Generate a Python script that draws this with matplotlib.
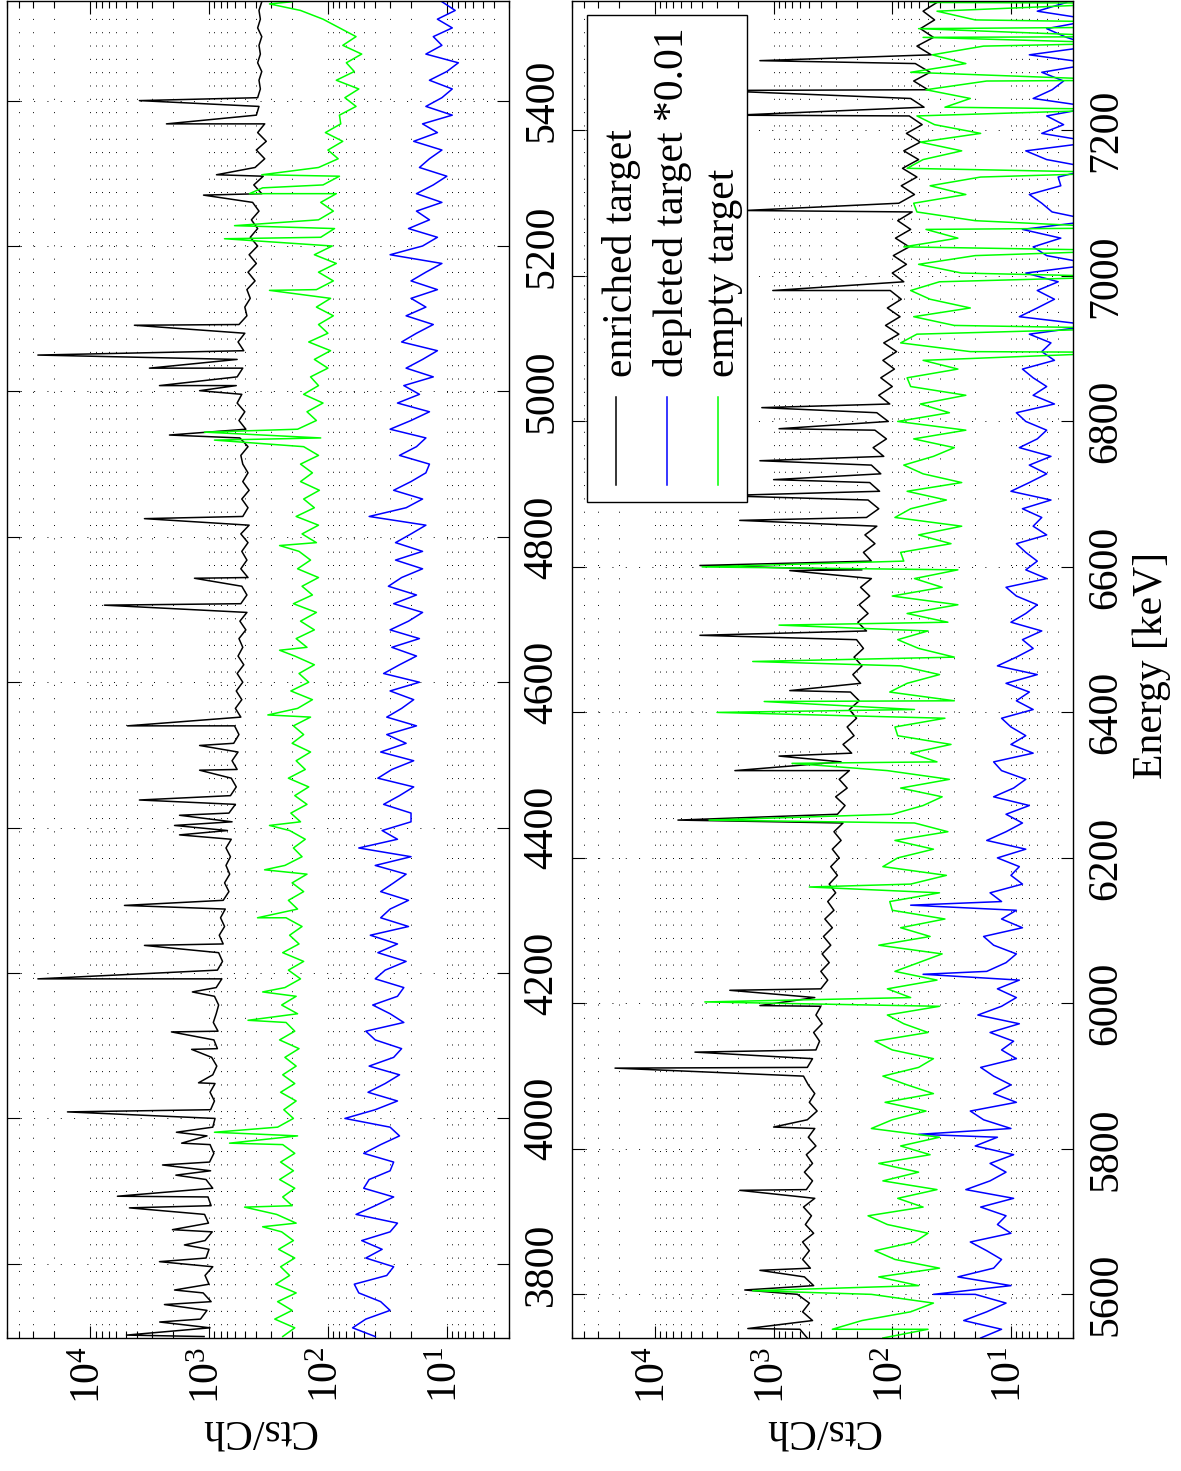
import matplotlib
matplotlib.use('Agg')
import matplotlib.pyplot as plt
from matplotlib.patches import Rectangle
from matplotlib.lines import Line2D
from matplotlib.ticker import FixedLocator, LogLocator, NullFormatter, LogFormatterSciNotation

plt.rcParams['font.family'] = ['Liberation Serif', 'DejaVu Serif']
plt.rcParams['mathtext.fontset'] = 'custom'
plt.rcParams['mathtext.rm'] = 'Liberation Serif'
plt.rcParams['mathtext.it'] = 'Liberation Serif:italic'
plt.rcParams['mathtext.bf'] = 'Liberation Serif:bold'

# ================= data: energy [keV] vs counts per channel =================
# channel grid (12 keV sampling of the continuum), panel 1 and panel 2
grid1_E = list(range(3700, 5537, 12))
grid2_E = list(range(5540, 7377, 12))

# ---- panel 1 (3700 - 5537 keV) ----
enr1_base = [1100, 980, 1180, 1040, 960, 1120, 1000, 1080, 930, 1060,
             1000, 1080, 940, 1010, 1090, 960, 1020, 930, 1060, 970,
             990, 910, 980, 1040, 930, 890, 970, 900, 980, 890,
             930, 860, 950, 850, 910, 840, 920, 870, 830, 900,
             870, 780, 850, 770, 830, 760, 820, 740, 800, 730,
             760, 680, 740, 670, 720, 660, 720, 650, 700, 640,
             680, 600, 660, 590, 650, 580, 640, 570, 620, 560,
             610, 540, 600, 530, 590, 520, 580, 510, 570, 520,
             560, 490, 550, 480, 540, 480, 530, 470, 540, 480,
             530, 470, 540, 460, 520, 470, 530, 460, 520, 470,
             520, 540, 470, 550, 490, 560, 500, 580, 530, 590,
             580, 520, 580, 510, 570, 500, 560, 480, 500, 450,
             480, 410, 470, 400, 460, 390, 450, 390, 440, 380,
             430, 360, 420, 350, 410, 340, 400, 330, 390, 340,
             400, 380, 390, 370, 380, 360, 390, 370, 380, 360,
             390, 370, 380, 360]
enr1_pk_E = [3702, 3720, 3744, 3764, 3803, 3826, 3847, 3877, 3893, 3922, 3936, 3966, 3981,
             4009, 4049, 4095, 4119, 4174, 4192, 4238, 4293, 4390, 4403, 4417, 4438, 4479,
             4513, 4540, 4706, 4743, 4825, 4940, 5001, 5008, 5032, 5050, 5091, 5270, 5298,
             5368, 5400]
enr1_pk_C = [4940, 2600, 2370, 1950, 2610, 1610, 2030, 4670, 5890, 1900, 2460, 1700, 1880,
             15500, 1225, 1400, 2070, 1380, 27500, 3490, 5140, 1770, 1950, 1770, 3850, 1200,
             1200, 4850, 7580, 1325, 3490, 2150, 1200, 2610, 3170, 27500, 4240, 1112, 865,
             2280, 3850]

emp1_base = [240, 190, 280, 200, 265, 185, 275, 210, 250, 190,
             260, 195, 245, 185, 270, 200, 240, 190, 255, 195,
             250, 190, 240, 180, 265, 195, 235, 185, 250, 190,
             240, 185, 230, 175, 255, 190, 225, 180, 245, 185,
             230, 170, 215, 160, 240, 175, 210, 165, 225, 180,
             215, 160, 200, 150, 230, 165, 195, 155, 210, 170,
             205, 150, 190, 145, 215, 155, 185, 140, 200, 160,
             195, 140, 180, 135, 205, 145, 175, 130, 190, 150,
             185, 130, 170, 125, 195, 135, 165, 120, 180, 140,
             175, 125, 165, 120, 185, 130, 160, 118, 170, 135,
             170, 120, 160, 115, 180, 125, 150, 110, 160, 120,
             140, 100, 130, 95, 145, 100, 120, 90, 125, 95,
             125, 90, 120, 85, 130, 92, 115, 88, 120, 90,
             115, 85, 110, 80, 120, 82, 100, 75, 105, 78,
             80, 58, 72, 55, 85, 60, 70, 52, 75, 58,
             80, 110, 170, 200]
emp1_pk_E = [3851, 3878, 3966, 3981, 4135, 4174, 4276, 4342, 4403, 4555, 4644, 4788, 4933,
             4944, 5139, 5210, 5228, 5272, 5280, 5298, 5533]
emp1_pk_C = [354, 502, 672, 900, 470, 354, 391, 341, 310, 320, 255, 255, 900,
             1092, 310, 741, 610, 457, 354, 360, 310]

dep1_base = [40, 62, 48, 30, 36, 55, 60, 32, 28, 48,
             35, 52, 30, 26, 58, 40, 28, 50, 45, 30,
             28, 50, 36, 25, 30, 72, 40, 26, 46, 33,
             25, 45, 28, 24, 40, 48, 23, 30, 42, 26,
             23, 40, 33, 22, 38, 26, 44, 21, 36, 30,
             21, 36, 28, 22, 40, 20, 55, 26, 35, 20,
             20, 34, 25, 19, 38, 29, 19, 36, 22, 32,
             18, 32, 24, 19, 30, 17, 34, 25, 18, 29,
             17, 30, 21, 16, 28, 18, 31, 24, 16, 27,
             16, 27, 20, 15, 45, 22, 16, 28, 20, 15,
             14, 25, 18, 15, 30, 20, 14, 26, 17, 23,
             13, 22, 16, 12, 24, 18, 13, 22, 15, 20,
             12, 20, 15, 11, 30, 16, 12, 21, 14, 18,
             11, 18, 13, 10, 17, 14, 11, 19, 12, 16,
             9, 15, 11, 9, 14, 10, 8, 15, 11, 13,
             9, 12, 8.5, 11]
dep1_pk_E = []
dep1_pk_C = []

# ---- panel 2 (5540 - 7378 keV) ----
enr2_base = [520, 600, 470, 570, 500, 630, 460, 550, 490, 570,
             500, 570, 460, 540, 480, 560, 450, 530, 470, 550,
             470, 530, 440, 510, 450, 520, 430, 500, 450, 510,
             560, 520, 470, 440, 410, 460, 390, 440, 400, 450,
             400, 350, 400, 340, 390, 330, 380, 320, 370, 310,
             350, 300, 340, 290, 330, 280, 320, 270, 310, 260,
             290, 250, 300, 240, 280, 230, 270, 220, 260, 210,
             240, 200, 230, 190, 225, 185, 215, 180, 210, 175,
             200, 165, 195, 160, 190, 155, 185, 150, 180, 150,
             175, 140, 170, 135, 165, 130, 160, 128, 155, 125,
             150, 118, 145, 112, 140, 108, 135, 105, 130, 100,
             125, 96, 120, 92, 118, 88, 114, 86, 110, 84,
             104, 80, 100, 76, 98, 72, 94, 70, 90, 68,
             88, 65, 84, 62, 82, 60, 80, 58, 76, 56,
             72, 54, 70, 50, 66, 48, 64, 47, 62, 45,
             58, 44, 55, 42]
enr2_pk_E = [5553, 5606, 5633, 5743, 5830, 5911, 5933, 5997, 6018, 6252, 6320, 6340, 6430,
             6506, 6595, 6602, 6664, 6698, 6720, 6746, 6790, 6819, 6980, 7090, 7221, 7255,
             7296]
enr2_pk_C = [1650, 1750, 1305, 1930, 1000, 21700, 4600, 1305, 2340, 6400, 2120, 900, 731,
             4180, 731, 4180, 1930, 2840, 1000, 1305, 900, 1257, 1016, 1750, 2120, 3310,
             1305]

emp2_base = [120, 50, 180, 70, 45, 150, 60, 130, 40, 95,
             140, 65, 50, 110, 160, 55, 90, 42, 120, 60,
             130, 48, 85, 40, 150, 100, 52, 115, 45, 75,
             120, 60, 45, 100, 140, 50, 80, 110, 40, 70,
             110, 42, 95, 60, 38, 130, 48, 85, 36, 100,
             105, 40, 70, 35, 120, 90, 45, 95, 34, 65,
             100, 55, 38, 85, 33, 110, 42, 70, 32, 90,
             95, 36, 65, 30, 105, 75, 40, 85, 30, 60,
             90, 50, 34, 75, 28, 100, 38, 65, 28, 80,
             85, 32, 60, 26, 95, 70, 35, 75, 26, 55,
             80, 45, 30, 66, 24, 90, 33, 58, 24, 70,
             75, 28, 55, 22, 85, 62, 30, 66, 22, 48,
             70, 40, 26, 60, 20, 80, 28, 52, 20, 62,
             66, 24, 48, 18, 75, 55, 26, 58, 18, 44,
             62, 36, 22, 52, 16, 70, 24, 46, 17, 55,
             60, 20, 42, 48]
emp2_pk_E = [5552, 5605, 6002, 6160, 6252, 6330, 6400, 6415, 6470, 6520, 6600,
             6895, 6928, 6999, 7035, 7066, 7142, 7229, 7269, 7320, 7329, 7342, 7349, 7375]
emp2_pk_C = [320, 1500, 3800, 500, 3500, 700, 3000, 1200, 1500, 900, 4000,
             1, 1, 1, 1, 1, 1, 1, 1, 1, 1, 1, 1, 1]

dep2_base = [18, 12, 25, 16, 11, 20, 10, 28, 14, 12,
             16, 22, 10, 13, 11, 18, 9.5, 24, 15, 11,
             15, 9.5, 20, 13, 10, 17, 22, 9, 14, 10,
             14, 18, 9, 12, 9.5, 15, 8.5, 19, 12, 9,
             13, 8.5, 16, 11, 9, 14, 17, 8, 12, 9,
             12, 15, 8, 10, 8.5, 13, 7.5, 16, 11, 8,
             11, 7, 14, 9.5, 7.5, 12, 14, 6.5, 10, 7.5,
             10, 12, 6.5, 9, 7, 11, 6, 13, 9, 6.5,
             8, 5.5, 10, 7.5, 6, 9, 11, 5, 7.5, 6,
             7.5, 9, 5, 6.5, 5.5, 8, 4.6, 10, 7, 5,
             7, 4.6, 8.5, 6, 5, 7.5, 9, 4.3, 6.5, 5,
             6.5, 8, 4.3, 5.5, 4.6, 7, 2, 8.5, 6, 4.3,
             6, 4, 7.5, 2, 5, 6.5, 3.8, 8, 2, 4.5,
             5.5, 7, 3.8, 4, 2, 5, 7.5, 2, 5.5, 3.6,
             5, 2, 6.5, 4.5, 3.6, 5.5, 2, 7, 2, 3.4,
             5, 2, 6, 3.4]
dep2_pk_E = [5600, 5820, 6040, 6135]
dep2_pk_C = [45, 60, 55, 70]

x_ticks = [1e1, 1e2, 1e3, 1e4]
panel1_ticks = [3800, 4000, 4200, 4400, 4600, 4800, 5000, 5200, 5400]
panel2_ticks = [5600, 5800, 6000, 6200, 6400, 6600, 6800, 7000, 7200]
legend_labels = ['enriched target', 'depleted target *0.01', 'empty target']
series_colors = ['#000000', '#0000ff', '#00ff00']


def merge(gE, gC, pE, pC):
    pts = sorted(list(zip(gE, gC)) + list(zip(pE, pC)))
    return [p[0] for p in pts], [p[1] for p in pts]


# ================= figure =================
W, H, DPI = 1181, 1471, 100
fig = plt.figure(figsize=(W / DPI, H / DPI), dpi=DPI)
FS = 30


def px_box(x0, x1, ytop, ybot):
    return [x0 / W, 1 - ybot / H, (x1 - x0) / W, (ybot - ytop) / H]


panels = [
    dict(box=px_box(7, 509, 1, 1338), ylim=(3698, 5537), ticks=panel1_ticks,
         series=[merge(grid1_E, enr1_base, enr1_pk_E, enr1_pk_C),
                 merge(grid1_E, dep1_base, dep1_pk_E, dep1_pk_C),
                 merge(grid1_E, emp1_base, emp1_pk_E, emp1_pk_C)]),
    dict(box=px_box(572, 1073, 1, 1338), ylim=(5540, 7378), ticks=panel2_ticks,
         series=[merge(grid2_E, enr2_base, enr2_pk_E, enr2_pk_C),
                 merge(grid2_E, dep2_base, dep2_pk_E, dep2_pk_C),
                 merge(grid2_E, emp2_base, emp2_pk_E, emp2_pk_C)]),
]

grid_ls = (0, (1, 12.7))
for p in panels:
    ax = fig.add_axes(p['box'])
    for (E, C), col in zip(p['series'], series_colors):
        ax.plot(C, E, color=col, lw=1.1)
    ax.set_xscale('log')
    ax.set_xlim(5e4, 3)
    ax.set_ylim(*p['ylim'])
    ax.xaxis.set_major_locator(FixedLocator(x_ticks))
    ax.xaxis.set_major_formatter(LogFormatterSciNotation())
    ax.yaxis.set_major_locator(FixedLocator(p['ticks']))
    ax.minorticks_on()
    ax.xaxis.set_minor_locator(LogLocator(base=10, subs=range(2, 10), numticks=20))
    ax.xaxis.set_minor_formatter(NullFormatter())
    ax.grid(True, which='both', axis='x', color='k', lw=0.7, ls=grid_ls)
    ax.grid(True, which='major', axis='y', color='k', lw=0.7, ls=grid_ls)
    ax.tick_params(axis='x', which='both', direction='in', top=True, bottom=True,
                   labelsize=FS, labelrotation=90, pad=6, width=0.8)
    ax.tick_params(axis='x', which='major', length=9)
    ax.tick_params(axis='x', which='minor', length=5)
    ax.tick_params(axis='y', which='major', direction='in', left=True, right=True,
                   labelleft=False, labelright=True, labelsize=FS, labelrotation=90,
                   pad=10, length=9, width=0.8)
    ax.tick_params(axis='y', which='minor', left=False, right=False)
    for s in ax.spines.values():
        s.set_linewidth(1.0)
    for lbl in ax.get_yticklabels():
        lbl.set_va('center')
    xc = (p['box'][0] + p['box'][2] / 2)
    fig.text(xc, 1 - 1420 / H, 'Cts/Ch', rotation=180, rotation_mode='anchor',
             ha='center', va='baseline', fontsize=FS)

fig.text(1162 / W, 1 - 665 / H, 'Energy [keV]', rotation=90, rotation_mode='anchor',
         ha='center', va='baseline', fontsize=FS)

# legend (rotated with the figure, drawn by hand)
fig.add_artist(Rectangle((587 / W, 1 - 502 / H), (747 - 587) / W, (502 - 15) / H,
                         transform=fig.transFigure, facecolor='white', edgecolor='k',
                         lw=1.0, zorder=10))
for i, (lab, col) in enumerate(zip(legend_labels, series_colors)):
    lx = 616 + 51 * i
    fig.add_artist(Line2D([lx / W, lx / W], [1 - 485 / H, 1 - 397 / H], color=col, lw=1.1,
                          transform=fig.transFigure, zorder=11))
    fig.text((lx + 16) / W, 1 - 377 / H, lab, rotation=90, rotation_mode='anchor',
             ha='left', va='baseline', fontsize=FS, zorder=12)

fig.savefig('out.png', dpi=DPI)
